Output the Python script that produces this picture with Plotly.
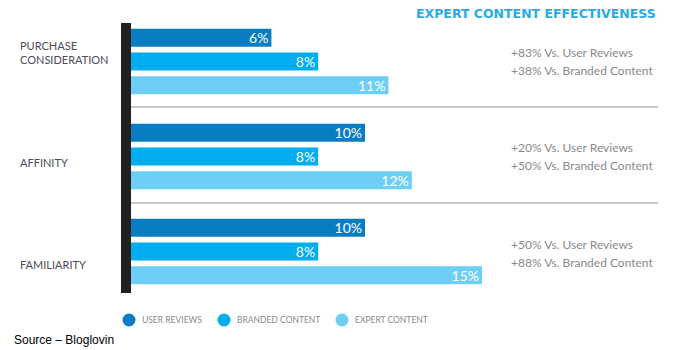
import plotly.graph_objects as go

categories = ["PURCHASE<br>CONSIDERATION", "AFFINITY", "FAMILIARITY"]
series_names = ["USER REVIEWS", "BRANDED CONTENT", "EXPERT CONTENT"]
user_reviews = [6, 10, 10]
branded_content = [8, 8, 8]
expert_content = [11, 12, 15]
comparisons = [
    ["+83% Vs. User Reviews", "+38% Vs. Branded Content"],
    ["+20% Vs. User Reviews", "+50% Vs. Branded Content"],
    ["+50% Vs. User Reviews", "+88% Vs. Branded Content"],
]
title_text = "EXPERT CONTENT EFFECTIVENESS"
source_text = "Source – Bloglovin"

colors = ["#0a7dc2", "#00aeef", "#6dcff6"]
ypos = list(range(len(categories)))

PLOT_L, PLOT_W, PLOT_T, PLOT_H = 131, 527, 23, 270

fig = go.Figure()
for name, vals, col in zip(series_names, [user_reviews, branded_content, expert_content], colors):
    fig.add_trace(go.Bar(
        y=ypos, x=vals, orientation="h", name=name,
        marker=dict(color=col, line=dict(width=0)),
        text=[f"{v}%" for v in vals], textposition="inside",
        insidetextanchor="end", constraintext="none",
        textfont=dict(color="white", size=14, family="Lato"),
        showlegend=False, hoverinfo="skip",
    ))

fig.update_layout(
    width=690, height=350,
    margin=dict(l=PLOT_L, r=690 - PLOT_L - PLOT_W, t=PLOT_T, b=350 - PLOT_T - PLOT_H),
    paper_bgcolor="white", plot_bgcolor="white",
    barmode="group", bargap=0.25, bargroupgap=0.24,
    xaxis=dict(range=[0, 22.52], visible=False, showgrid=False, zeroline=False),
    yaxis=dict(range=[2.437, -0.405], visible=False, showgrid=False, zeroline=False),
    showlegend=False,
    font=dict(family="Lato"),
)

def px_x(x):
    return (x - PLOT_L) / PLOT_W

def px_y(y):
    return 1 - (y - PLOT_T) / PLOT_H

# black vertical axis bar
fig.add_shape(type="rect", xref="paper", yref="paper", x0=px_x(121), x1=0, y0=0, y1=1,
              fillcolor="#231f20", line=dict(width=0), layer="above")
# separator lines between groups
for yv in [0.48, 1.49]:
    fig.add_shape(type="line", xref="paper", yref="y", x0=0, x1=1, y0=yv, y1=yv,
                  line=dict(color="#b5b5b5", width=1.5))

# category labels on the left
label_y = [-0.09, 1.06, 2.14]
for cat, yv in zip(categories, label_y):
    fig.add_annotation(text=cat, xref="paper", yref="y", x=px_x(18), y=yv,
                       xanchor="left", yanchor="middle", align="left", showarrow=False,
                       font=dict(size=11, color="#4d4b5c", family="Lato"))

# comparison notes on the right (two lines, 18 px apart)
note_offsets = [-0.005, -0.005, 0.026]
for i, ((a, b), off) in enumerate(zip(comparisons, note_offsets)):
    for txt, dy in [(a, -9 / 95), (b, 9 / 95)]:
        fig.add_annotation(text=txt, xref="paper", yref="y", x=px_x(509), y=i + off + dy,
                           xanchor="left", yanchor="middle", align="left", showarrow=False,
                           font=dict(size=12, color="#8a8a8a", family="Lato"))

# title
fig.add_annotation(text="<b>" + title_text + "</b>", xref="paper", yref="paper", x=1, y=px_y(14),
                   xanchor="right", yanchor="middle", showarrow=False,
                   font=dict(size=12.5, color="#29abe2", family="DejaVu Sans"))

# legend (circles + labels)
legend_cx = [129, 224, 342]
for name, col, cx in zip(series_names, colors, legend_cx):
    fig.add_shape(type="circle", xref="paper", yref="paper",
                  xsizemode="pixel", ysizemode="pixel",
                  xanchor=px_x(cx), yanchor=px_y(320),
                  x0=-6.5, x1=6.5, y0=-6.5, y1=6.5,
                  fillcolor=col, line=dict(width=0))
    fig.add_annotation(text=name, xref="paper", yref="paper", x=px_x(cx + 11), y=px_y(320),
                       xanchor="left", yanchor="middle", showarrow=False,
                       font=dict(size=8.5, color="#8a8a8a", family="Lato"))

# source
fig.add_annotation(text=source_text, xref="paper", yref="paper", x=px_x(12), y=px_y(340),
                   xanchor="left", yanchor="middle", showarrow=False,
                   font=dict(size=12, color="#000000", family="Liberation Sans"))

fig.write_html("out.html")
